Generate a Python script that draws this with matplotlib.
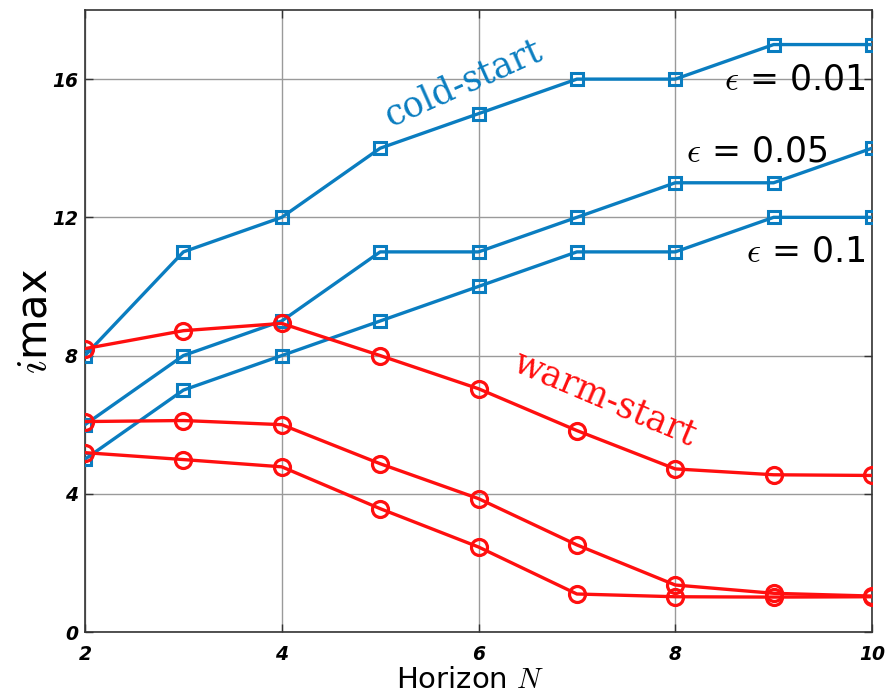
import matplotlib
matplotlib.use("Agg")
import matplotlib.pyplot as plt

# Horizon lengths
horizon = [2, 3, 4, 5, 6, 7, 8, 9, 10]

# Cold-start iteration counts for each tolerance
cold_eps001 = [8, 11, 12, 14, 15, 16, 16, 17, 17]
cold_eps005 = [6, 8, 9, 11, 11, 12, 13, 13, 14]
cold_eps01 = [5, 7, 8, 9, 10, 11, 11, 12, 12]

# Warm-start iteration counts (averaged) for each tolerance
warm_eps001 = [8.2, 8.72, 8.93, 8.0, 7.04, 5.83, 4.72, 4.55, 4.53]
warm_eps005 = [6.09, 6.12, 6.0, 4.87, 3.86, 2.52, 1.36, 1.12, 1.04]
warm_eps01 = [5.19, 4.99, 4.78, 3.57, 2.46, 1.10, 1.02, 1.01, 1.02]

eps_labels = [r"$\epsilon$ = 0.01", r"$\epsilon$ = 0.05", r"$\epsilon$ = 0.1"]

x_ticks = [2, 4, 6, 8, 10]
y_ticks = [0, 4, 8, 12, 16]

blue = "#0a7dc0"
red = "#ff0f0f"

plt.rcParams["mathtext.fontset"] = "cm"

fig = plt.figure(figsize=(8.85, 6.98), dpi=100)
ax = fig.add_axes([85 / 885, 66 / 698, 787 / 885, 622 / 698])

for ys in (cold_eps001, cold_eps005, cold_eps01):
    ax.plot(horizon, ys, color=blue, lw=2.4, marker="s", ms=8.5,
            mfc="none", mec=blue, mew=2.2, zorder=3)
for ys in (warm_eps001, warm_eps005, warm_eps01):
    ax.plot(horizon, ys, color=red, lw=2.4, marker="o", ms=11.5,
            mfc="none", mec=red, mew=2.3, zorder=4)

ax.set_xlim(2, 10)
ax.set_ylim(0, 18)
ax.set_xticks(x_ticks)
ax.set_yticks(y_ticks)
ax.set_xticklabels([str(t) for t in x_ticks], fontsize=13.5,
                   fontweight="bold", fontstyle="italic")
ax.set_yticklabels([str(t) for t in y_ticks], fontsize=13.5,
                   fontweight="bold", fontstyle="italic")
ax.tick_params(direction="in", length=6, width=1, top=True, right=True,
               color="#333333")
ax.tick_params(axis="x", pad=9)
ax.tick_params(axis="y", pad=5)
ax.grid(True, color="#9a9a9a", lw=1)
for sp in ax.spines.values():
    sp.set_color("#333333")
    sp.set_linewidth(1.2)

ax.set_xlabel(r"Horizon $N$", fontsize=21)
ax.xaxis.set_label_coords(0.49, -0.055)
ax.set_ylabel(r"$i$max", fontsize=30)
ax.yaxis.set_label_coords(-0.038, 0.5)

ax.text(5.84, 15.9, "cold-start", color=blue, fontsize=25,
        family="DejaVu Serif", rotation=24, ha="center", va="center")
ax.text(7.28, 6.72, "warm-start", color=red, fontsize=25,
        family="DejaVu Serif", rotation=-23, ha="center", va="center")

ax.text(9.93, 16.0, eps_labels[0], fontsize=25, ha="right", va="center")
ax.text(9.55, 13.9, eps_labels[1], fontsize=25, ha="right", va="center")
ax.text(9.93, 11.0, eps_labels[2], fontsize=25, ha="right", va="center")

fig.savefig("out.png", dpi=100)
